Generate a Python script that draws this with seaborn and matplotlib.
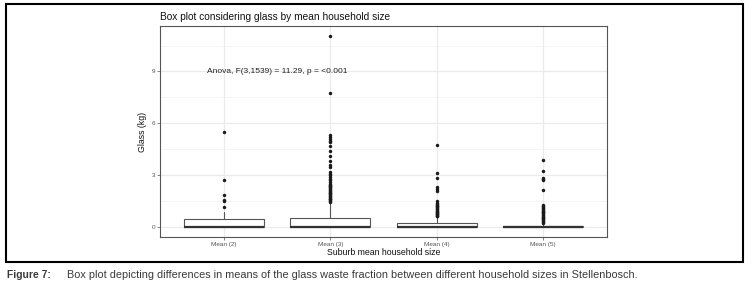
#!/usr/bin/env python3
"""
Figure 7: box plot of glass waste fraction by suburb mean household size
"""

import pandas as pd
import matplotlib.pyplot as plt
import matplotlib.patches as mpatches
import seaborn as sns

# Data
groups = ["Mean (2)", "Mean (3)", "Mean (4)", "Mean (5)"]

# box statistics per group, kg
q1 = [0.0, 0.0, 0.0, 0.0]
median = [0.0, 0.0, 0.0, 0.0]
q3 = [0.45, 0.54, 0.25, 0.07]
whisker_low = [0.0, 0.0, 0.0, 0.0]
whisker_high = [0.9, 1.38, 0.58, 0.22]

# outliers per group, kg
out_2 = [1.16, 1.5, 1.58, 1.88, 2.73, 5.51]
out_3 = [1.45, 1.5, 1.55, 1.6, 1.65, 1.7, 1.75, 1.8, 1.85, 1.9, 1.95, 2.0,
         2.05, 2.1, 2.15, 2.2, 2.25, 2.3, 2.35, 2.4, 2.45, 2.5, 2.6, 2.7,
         2.8, 2.9, 3.0, 3.1, 3.2, 3.5, 3.6, 3.8, 4.1, 4.4, 4.7, 4.9, 5.0,
         5.1, 5.2, 5.3, 7.74, 11.08]
out_4 = [0.62, 0.66, 0.7, 0.74, 0.78, 0.82, 0.86, 0.9, 0.95, 1.0, 1.05,
         1.1, 1.15, 1.2, 1.25, 1.3, 1.35, 1.42, 1.49, 2.1, 2.2, 2.3, 2.84,
         3.15, 4.74]
out_5 = [0.25, 0.3, 0.35, 0.4, 0.45, 0.5, 0.55, 0.6, 0.65, 0.7, 0.75, 0.8,
         0.85, 0.9, 0.95, 1.0, 1.05, 1.1, 1.15, 1.2, 1.26, 2.17, 2.71, 2.8,
         2.86, 3.25, 3.91]

annotation = "Anova, F(3,1539) = 11.29, p = <0.001"
caption_head = "Figure 7:"
caption_body = ("Box plot depicting differences in means of the glass waste "
                "fraction between different household sizes in Stellenbosch.")

sns.set_theme(style="white")
plt.rcParams['font.family'] = ['Liberation Sans', 'DejaVu Sans']

fig = plt.figure(figsize=(7.54, 2.92), dpi=100)
ax = fig.add_axes([160 / 754, 1 - 237 / 292, 447 / 754, 211 / 292])

# grid like theme_bw
for v in [1.5, 4.5, 7.5, 10.5]:
    ax.axhline(v, color='#F2F2F2', lw=0.5, zorder=0)
for v in [0, 3, 6, 9]:
    ax.axhline(v, color='#EBEBEB', lw=0.9, zorder=0)
for i in range(len(groups)):
    ax.axvline(i, color='#EBEBEB', lw=0.9, zorder=0)

stats = []
for i, g in enumerate(groups):
    stats.append(dict(label=g, q1=q1[i], med=median[i], q3=q3[i],
                      whislo=whisker_low[i], whishi=whisker_high[i], fliers=[]))

ax.bxp(stats, positions=range(len(groups)), widths=0.75, showcaps=False,
       showfliers=False, patch_artist=True,
       boxprops=dict(facecolor='white', edgecolor='#555555', lw=0.8),
       whiskerprops=dict(color='#555555', lw=0.8),
       medianprops=dict(color='#333333', lw=1.6))

outliers = pd.DataFrame({
    "group": (["Mean (2)"] * len(out_2) + ["Mean (3)"] * len(out_3)
              + ["Mean (4)"] * len(out_4) + ["Mean (5)"] * len(out_5)),
    "glass": out_2 + out_3 + out_4 + out_5,
})
sns.stripplot(data=outliers, x="group", y="glass", order=groups, jitter=False,
              color='#1a1a1a', size=2.5, linewidth=0, ax=ax, zorder=3)

ax.text(0.5, 9, annotation, ha='center', va='center', fontsize=6.0,
        color='#222222')

ax.set_xlim(-0.6, 3.6)
ax.set_ylim(-0.57, 11.63)
ax.set_yticks([0, 3, 6, 9])
ax.set_xticks(range(len(groups)))
ax.set_xticklabels(groups)
ax.tick_params(axis='both', length=2, width=0.5, color='#555555',
               labelsize=4.6, labelcolor='#555555', pad=1.5)
ax.tick_params(axis='x', bottom=True)
ax.tick_params(axis='y', left=True)

ax.set_xlabel("Suburb mean household size", fontsize=6.3, color='#111111',
              labelpad=1)
ax.set_ylabel("Glass (kg)", fontsize=6.3, color='#111111', labelpad=3)
ax.set_title("Box plot considering glass by mean household size", loc='left',
             fontsize=7.3, color='#111111', pad=4)

for s in ax.spines.values():
    s.set_color('#555555')
    s.set_linewidth(0.8)

# outer frame around the figure panel
frame = mpatches.Rectangle((6 / 754, 1 - 261.5 / 292), 737 / 754, 257.5 / 292,
                           transform=fig.transFigure, fill=False,
                           edgecolor='black', lw=1.5)
fig.patches.append(frame)

# caption
fig.text(7 / 754, 1 - 275 / 292, caption_head, fontsize=7.4, weight='bold',
         color='#3a3a3a', va='center', ha='left')
fig.text(67 / 754, 1 - 275 / 292, caption_body, fontsize=7.8,
         color='#3a3a3a', va='center', ha='left')

fig.savefig("out.png", dpi=100)
plt.close()
